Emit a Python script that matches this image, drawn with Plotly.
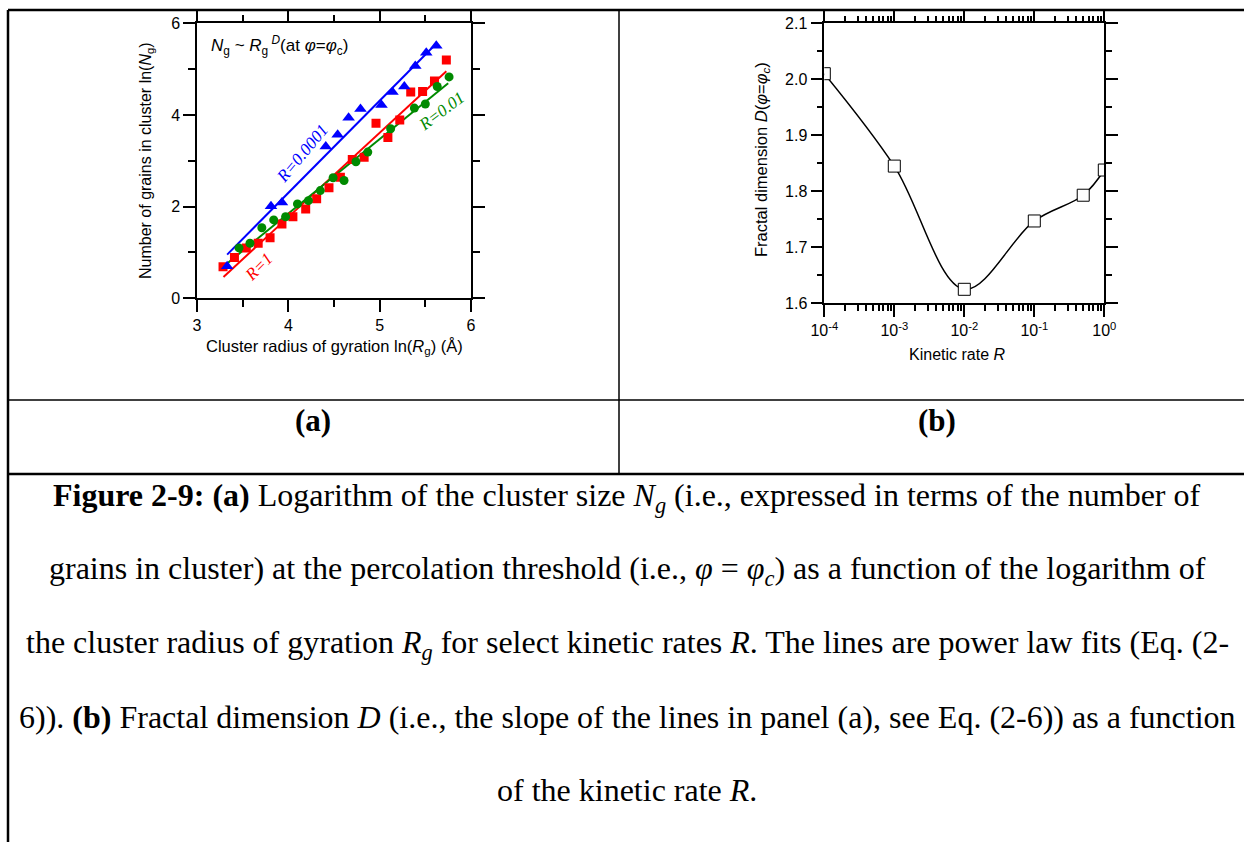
import plotly.graph_objects as go

W, H = 1244, 842

# ---- panel (a): ln(Ng) versus ln(Rg) for three kinetic rates ----
lnrg_r0001 = [3.33, 3.81, 3.93, 4.41, 4.54, 4.66, 4.79, 5.02, 5.14, 5.27, 5.39, 5.51, 5.62]
lnng_r0001 = [0.70, 2.01, 2.09, 3.31, 3.57, 3.94, 4.13, 4.22, 4.50, 4.62, 5.07, 5.36, 5.51]

lnrg_r1 = [3.285, 3.41, 3.54, 3.67, 3.80, 3.93, 4.05, 4.19, 4.31, 4.445, 4.57, 4.70,
           4.83, 4.96, 5.09, 5.22, 5.34, 5.47, 5.60, 5.73]
lnng_r1 = [0.69, 0.89, 1.10, 1.20, 1.32, 1.62, 1.78, 1.95, 2.17, 2.41, 2.64, 3.03,
           3.08, 3.82, 3.51, 3.89, 4.50, 4.51, 4.74, 5.20]

lnrg_r001 = [3.46, 3.58, 3.71, 3.84, 3.97, 4.10, 4.22, 4.35, 4.49, 4.61, 4.74, 4.87,
             5.12, 5.38, 5.50, 5.63, 5.76]
lnng_r001 = [1.10, 1.20, 1.54, 1.71, 1.78, 2.06, 2.13, 2.35, 2.63, 2.57, 2.98, 3.19,
             3.70, 4.15, 4.24, 4.62, 4.83]

# power-law fits ln(Ng) = D ln(Rg) + b ; slopes D come from panel (b)
fit_b = {"0.0001": -5.74, "1": -5.58, "0.01": -4.65}
fit_span = {"0.0001": [3.33, 5.61], "1": [3.29, 5.73], "0.01": [3.31, 5.75]}

# ---- panel (b): fractal dimension versus kinetic rate ----
rate = [1e-4, 1e-3, 1e-2, 1e-1, 0.5, 1.0]
dim = [2.01, 1.845, 1.625, 1.747, 1.793, 1.838]
D_of = {"0.0001": dim[0], "0.01": dim[2], "1": dim[5]}

BLUE, RED, GREEN = "#0000ff", "#ff0000", "#008a00"
SANS = "Liberation Sans, Arial, sans-serif"
SERIF = "Liberation Serif, Times New Roman, serif"


def px(x):
    return x / W


def py(y):
    return 1 - y / H


fig = go.Figure()

# fit lines
for key, col in [("0.0001", BLUE), ("1", RED), ("0.01", GREEN)]:
    xs = fit_span[key]
    ys = [D_of[key] * x + fit_b[key] for x in xs]
    fig.add_trace(go.Scatter(x=xs, y=ys, mode="lines", line=dict(color=col, width=2),
                             xaxis="x", yaxis="y", showlegend=False, hoverinfo="skip"))

fig.add_trace(go.Scatter(x=lnrg_r1, y=lnng_r1, mode="markers",
                         marker=dict(symbol="square", size=9, color=RED),
                         xaxis="x", yaxis="y", showlegend=False))
fig.add_trace(go.Scatter(x=lnrg_r001, y=lnng_r001, mode="markers",
                         marker=dict(symbol="circle", size=9, color=GREEN),
                         xaxis="x", yaxis="y", showlegend=False))
fig.add_trace(go.Scatter(x=lnrg_r0001, y=lnng_r0001, mode="markers",
                         marker=dict(symbol="triangle-up", size=11, color=BLUE),
                         xaxis="x", yaxis="y", showlegend=False))

fig.add_trace(go.Scatter(x=rate, y=dim, mode="lines+markers",
                         line=dict(color="black", width=1.5, shape="spline", smoothing=1.0),
                         marker=dict(symbol="square", size=12, color="white",
                                     line=dict(color="black", width=1)),
                         xaxis="x2", yaxis="y2", showlegend=False))

axis_common = dict(showline=True, linecolor="black", linewidth=1.5, mirror="allticks",
                   ticks="outside", tickcolor="black", tickwidth=1.5, ticklen=12,
                   showgrid=False, zeroline=False, automargin=False,
                   tickfont=dict(family=SANS, size=16, color="black"))

fig.update_layout(
    width=W, height=H, margin=dict(l=0, r=0, t=0, b=0),
    paper_bgcolor="white", plot_bgcolor="white",
    xaxis=dict(domain=[px(197), px(471)], range=[3, 6], tickvals=[3, 4, 5, 6],
               minor=dict(tickvals=[3.5, 4.5, 5.5], ticks="outside", ticklen=7,
                          tickwidth=1.5, tickcolor="black"),
               anchor="y", **axis_common),
    yaxis=dict(domain=[py(298.3), py(23.3)], range=[0, 6], tickvals=[0, 2, 4, 6],
               minor=dict(tickvals=[1, 3, 5], ticks="outside", ticklen=7,
                          tickwidth=1.5, tickcolor="black"),
               anchor="x", **axis_common),
    xaxis2=dict(domain=[px(824.3), px(1104.3)], type="log", range=[-4, 0],
                tickvals=[1e-4, 1e-3, 1e-2, 1e-1, 1],
                ticktext=["10<sup>-4</sup>", "10<sup>-3</sup>", "10<sup>-2</sup>",
                          "10<sup>-1</sup>", "10<sup>0</sup>"],
                minor=dict(tickvals=[m * 10 ** e for e in range(-4, 0) for m in range(2, 10)],
                           ticks="outside", ticklen=6, tickwidth=1.5, tickcolor="black"),
                anchor="y2", **axis_common),
    yaxis2=dict(domain=[py(303.3), py(23.3)], range=[1.6, 2.1],
                tickvals=[1.6, 1.7, 1.8, 1.9, 2.0, 2.1],
                ticktext=["1.6", "1.7", "1.8", "1.9", "2.0", "2.1"],
                minor=dict(tickvals=[1.65, 1.75, 1.85, 1.95, 2.05], ticks="outside",
                           ticklen=6, tickwidth=1.5, tickcolor="black"),
                anchor="x2", **axis_common),
)

ann = []


def add_text(x, y, text, size, family=SANS, color="black", angle=0, xanchor="center"):
    ann.append(dict(x=px(x), y=py(y), xref="paper", yref="paper", text=text,
                    showarrow=False, textangle=angle, xanchor=xanchor, yanchor="middle",
                    font=dict(family=family, size=size, color=color)))


# panel (a) labels
add_text(147, 161, "Number of grains in cluster ln(<i>N</i><sub>g</sub>)", 16, angle=-90)
add_text(334, 347, "Cluster radius of gyration ln(<i>R</i><sub>g</sub>) (Å)", 16.5)
add_text(209, 46, "<i>N</i><sub>g</sub> ~ <i>R</i><sub>g</sub><sup> <i>D</i></sup>(at <i>φ</i>=<i>φ</i><sub>c</sub>)",
         17, xanchor="left")
add_text(302, 153, "<i>R=0.0001</i>", 17, family=SERIF, color=BLUE, angle=-50)
add_text(441, 111, "<i>R=0.01</i>", 17, family=SERIF, color=GREEN, angle=-37)
add_text(258, 267, "<i>R=1</i>", 17, family=SERIF, color=RED, angle=-45)

# panel (b) labels
add_text(762, 160, "Fractal dimension <i>D</i>(<i>φ</i>=<i>φ</i><sub><i>c</i></sub>)", 16.5, angle=-90)
add_text(957, 355, "Kinetic rate <i>R</i>", 16)

# table row labels
add_text(313, 420, "<b>(a)</b>", 31, family=SERIF)
add_text(937, 420, "<b>(b)</b>", 31, family=SERIF)

# caption
caption = [
    "<b>Figure 2-9:</b> <b>(a)</b> Logarithm of the cluster size <i>N<sub>g</sub></i> (i.e., expressed in terms of the number of",
    "grains in cluster) at the percolation threshold (i.e., <i>φ</i> = <i>φ<sub>c</sub></i>) as a function of the logarithm of",
    "the cluster radius of gyration <i>R<sub>g</sub></i> for select kinetic rates <i>R</i>. The lines are power law fits (Eq. (2-",
    "6)). <b>(b)</b> Fractal dimension <i>D</i> (i.e., the slope of the lines in panel (a), see Eq. (2-6)) as a function",
    "of the kinetic rate <i>R</i>.",
]
cap_y = [497, 570, 644, 717, 790]
for line, yy in zip(caption, cap_y):
    add_text(627, yy, line, 32, family=SERIF)

fig.update_layout(annotations=ann)

# table rules
rules = [
    (8, 10, 1244, 10, 2.5),
    (8, 10, 8, 842, 2.5),
    (619, 10, 619, 474, 1.5),
    (8, 400, 1244, 400, 1.5),
    (8, 474, 1244, 474, 2.5),
]
fig.update_layout(shapes=[dict(type="line", xref="paper", yref="paper",
                               x0=px(a), y0=py(b), x1=px(c), y1=py(d),
                               line=dict(color="black", width=w))
                          for a, b, c, d, w in rules])

fig.write_html("out.html")
